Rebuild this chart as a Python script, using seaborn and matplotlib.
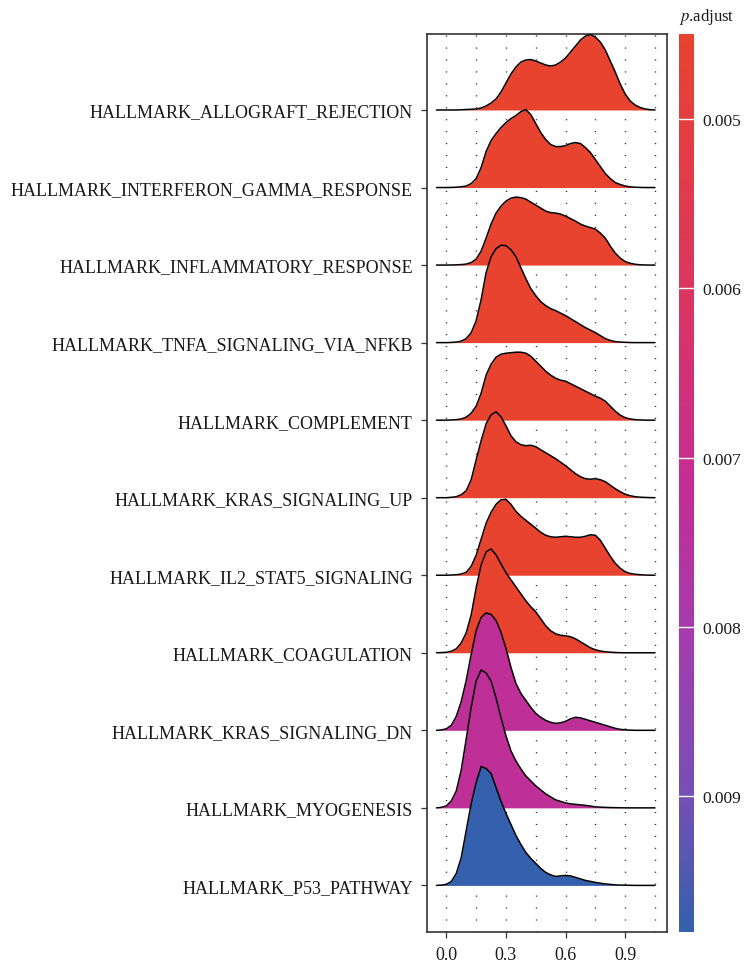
import numpy as np
import matplotlib
matplotlib.use("Agg")
import matplotlib.pyplot as plt
import seaborn as sns
from matplotlib.colors import LinearSegmentedColormap, Normalize
from matplotlib.cm import ScalarMappable

# --- data (ridge heights in px of a 77.6 px row) ---
pathways = [
    "HALLMARK_ALLOGRAFT_REJECTION",
    "HALLMARK_INTERFERON_GAMMA_RESPONSE",
    "HALLMARK_INFLAMMATORY_RESPONSE",
    "HALLMARK_TNFA_SIGNALING_VIA_NFKB",
    "HALLMARK_COMPLEMENT",
    "HALLMARK_KRAS_SIGNALING_UP",
    "HALLMARK_IL2_STAT5_SIGNALING",
    "HALLMARK_COAGULATION",
    "HALLMARK_KRAS_SIGNALING_DN",
    "HALLMARK_MYOGENESIS",
    "HALLMARK_P53_PATHWAY",
]
p_adjust = [0.0045, 0.0045, 0.0045, 0.0045, 0.0045, 0.0045, 0.0045, 0.0045,
            0.0073, 0.0073, 0.0098]

# heights sampled every 0.025 from -0.05 to 1.05
x_grid = np.linspace(-0.05, 1.05, 45)

allograft = [0, 0, 0, 0, 0, 0.2, 0.5, 0.7, 1, 2, 4, 7, 11, 18, 27, 36, 43, 48, 50, 50.5,
             49, 47, 45, 44, 45, 48, 52, 58, 64, 70, 74, 75.5, 73, 68, 60, 49, 38, 26,
             16, 9, 5, 2.5, 1, 0.3, 0]
interferon = [0, 0, 0, 0.1, 0.3, 0.8, 1.5, 4, 9, 20, 36, 47, 54, 60, 65, 69, 72, 76, 78,
              73, 64, 55, 48, 43, 41, 41, 42, 44, 45, 44, 40, 35, 28, 21, 14, 9, 5, 3,
              1.5, 0.7, 0.3, 0.1, 0, 0, 0]
inflammatory = [0, 0, 0, 0.1, 0.2, 0.5, 1, 2.5, 6, 14, 27, 41, 52, 59, 64, 67, 68, 67.5,
                66, 63, 60, 57, 54, 52.5, 52, 51, 49, 46.5, 44, 41, 39, 37.5, 36, 32, 27,
                19, 12, 7, 3.5, 1.8, 0.8, 0.3, 0.1, 0, 0]
tnfa = [0, 0, 0, 0.2, 0.5, 1.5, 4, 10, 22, 43, 70, 86, 94, 97.5, 97, 93, 86, 75, 64, 54,
        47, 41, 37, 34, 32, 29.5, 27, 24, 21, 18, 15, 12.5, 10, 7, 4, 2.2, 1, 0.6, 0.3,
        0.1, 0, 0, 0, 0, 0]
complement = [0, 0, 0, 0.2, 0.5, 1.2, 3, 7, 14, 27, 45, 56, 63, 66, 67, 67.5, 68, 68, 67,
              64, 59, 54, 49, 45, 42, 40, 39, 36.5, 34, 31.5, 29, 26.5, 24, 22, 19, 14,
              9, 5, 2.5, 1.2, 0.5, 0.2, 0, 0, 0]
kras_up = [0, 0, 0, 0.4, 1, 3, 7, 18, 38, 57, 74, 83, 86, 81, 72, 62, 56, 53, 52, 52.5,
           51, 48, 45, 42, 39, 35.5, 32, 28, 24, 21, 19, 18.5, 19, 18, 16, 12.5, 9, 6,
           3.5, 2, 1, 0.5, 0.3, 0.1, 0]
il2_stat5 = [0, 0, 0, 0.2, 0.5, 1.2, 3, 9, 20, 36, 52, 63, 71, 75.5, 76, 71, 64, 59, 55,
             51, 47, 43, 40, 38.5, 38, 38.5, 39, 38.5, 38, 38, 39, 40.5, 40, 35, 27, 19,
             12, 7, 3.5, 1.8, 1, 0.5, 0.2, 0.1, 0]
coagulation = [0, 0.2, 0.5, 1.5, 4, 10, 20, 38, 65, 88, 101, 104, 98, 89, 80, 73, 66, 59,
               52, 46, 41, 34, 27, 22, 19, 17.5, 17, 16, 14, 11, 8, 5, 3, 1.8, 1, 0.6,
               0.3, 0.1, 0, 0, 0, 0, 0, 0, 0]
kras_dn = [0, 0.4, 1.5, 5, 14, 29, 50, 76, 100, 113, 117.5, 116, 110, 98, 82, 63, 47, 37,
           30, 23, 17, 13, 10, 8, 7, 7.5, 9, 11.5, 13, 12.5, 11, 9.5, 8, 6.5, 5, 3.5, 2,
           1, 0.5, 0.2, 0, 0, 0, 0, 0]
myogenesis = [0, 0.5, 2, 7, 17, 38, 69, 101, 127, 138, 135, 127, 110, 90, 72, 57, 47, 39,
              32, 27, 22, 18, 14, 11, 8, 6.5, 5, 4, 3.5, 3, 2.5, 1.8, 1, 0.7, 0.5, 0.3,
              0.2, 0.1, 0, 0, 0, 0, 0, 0, 0]
p53 = [0, 0.3, 1, 4, 12, 28, 55, 82, 103, 119, 117, 112, 98, 84, 72, 61, 50, 41, 33, 27,
       22, 17, 13, 10.5, 9, 9.5, 10, 9.5, 8, 6.5, 5, 4, 3, 2.2, 1.5, 1, 0.5, 0.3, 0.2,
       0.1, 0, 0, 0, 0, 0]

ridges = [allograft, interferon, inflammatory, tnfa, complement, kras_up,
          il2_stat5, coagulation, kras_dn, myogenesis, p53]

x_ticks = [0.0, 0.3, 0.6, 0.9]
x_tick_labels = ["0.0", "0.3", "0.6", "0.9"]
cbar_ticks = [0.005, 0.006, 0.007, 0.008, 0.009]
cbar_tick_labels = ["0.005", "0.006", "0.007", "0.008", "0.009"]

# --- style ---
sns.set_theme(style="white")
plt.rcParams['font.family'] = ['Liberation Serif', 'DejaVu Serif']
plt.rcParams['mathtext.fontset'] = 'stix'

cmap = LinearSegmentedColormap.from_list(
    "padj", [(0.0, "#E8432F"), (0.3, "#DA3562"), (0.5, "#C42D93"),
             (0.68, "#A23CB0"), (0.85, "#7450B5"), (1.0, "#3560AD")])
norm = Normalize(vmin=0.0045, vmax=0.0098)

W, H = 744, 962
fig = plt.figure(figsize=(W / 100, H / 100), dpi=100)
ax = fig.add_axes([426.7 / W, 1 - 932.7 / H, (666.5 - 426.7) / W, (932.7 - 35) / H])

# dotted vertical grid
for gx in np.arange(0, 1.06, 0.15):
    ax.axvline(gx, color="#222222", lw=1.0, ls=(0, (0.8, 7.8)), zorder=0)

n = len(pathways)
for i, (name, h, p) in enumerate(zip(pathways, ridges, p_adjust)):
    base = n - i
    y = base + np.array(h) / 77.6
    ax.fill_between(x_grid, base, y, color=cmap(norm(p)), lw=0, zorder=2 + 2 * i)
    sns.lineplot(x=x_grid, y=y, color="black", lw=1.1, ax=ax,
                 sort=False, estimator=None, zorder=3 + 2 * i)

ax.set_xlim(-0.099, 1.108)
ax.set_ylim(0.403, 11.98)
ax.set_yticks(range(n, 0, -1))
ax.set_yticklabels(pathways)
ax.set_xticks(x_ticks)
ax.set_xticklabels(x_tick_labels)
ax.set_xlabel("")
ax.set_ylabel("")
ax.tick_params(axis="both", which="both", left=True, bottom=True, direction="out",
               length=4, width=0.9, color="#333333", labelsize=13,
               labelcolor="#1a1a1a", pad=6)
for s in ax.spines.values():
    s.set_color("#333333")
    s.set_linewidth(1.2)

# colorbar
cax = fig.add_axes([679 / W, 1 - 933 / H, 15 / W, (933 - 35) / H])
cb = fig.colorbar(ScalarMappable(norm=norm, cmap=cmap), cax=cax)
cb.outline.set_visible(False)
cax.invert_yaxis()
cb.set_ticks(cbar_ticks)
cb.set_ticklabels(cbar_tick_labels)
cax.tick_params(length=0, pad=6, labelsize=12.5, labelcolor="#1a1a1a")
for t in cbar_ticks:
    cax.axhline(t, color="white", lw=1.0)

fig.text(679 / W, 1 - 17 / H, r"$p$.adjust", ha="left", va="center",
         fontsize=12, color="#1a1a1a")

fig.savefig("out.png", dpi=100)
